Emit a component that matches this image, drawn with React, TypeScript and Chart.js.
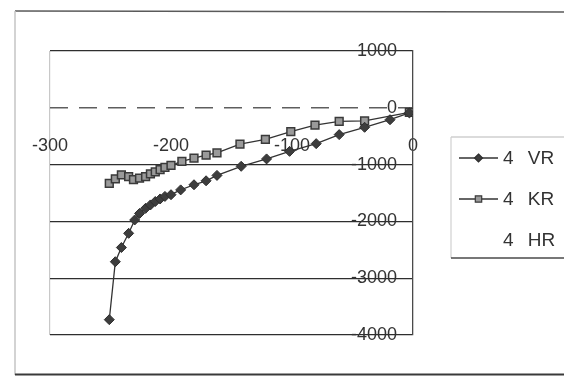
import React, { useEffect, useRef } from 'react';
import { Chart, registerables } from 'chart.js';

Chart.register(...registerables);

// ---- data ----
const seriesLabels = ['4 VR', '4 KR', '4 HR'];

const vrX = [-251, -246, -241, -235, -230, -226, -221, -217, -213, -209, -205, -200, -192, -181, -171, -162, -142, -121, -102, -80, -61, -40, -19, -3];
const vrY = [-3730, -2710, -2460, -2210, -1975, -1860, -1770, -1710, -1650, -1605, -1560, -1530, -1445, -1355, -1285, -1190, -1030, -900, -767, -631, -472, -343, -210, -90];

const krX = [-251, -246, -241, -235, -231, -226, -221, -217, -213, -209, -205, -200, -191, -181, -171, -162, -143, -122, -101, -81, -61, -40, -3];
const krY = [-1330, -1250, -1180, -1210, -1265, -1240, -1210, -1165, -1130, -1090, -1050, -1015, -945, -885, -835, -795, -640, -555, -420, -305, -240, -230, -80];

const xMin = -300;
const xMax = 0;
const xStep = 100;
const yMin = -4000;
const yMax = 1000;
const yStep = 1000;

const FONT = "'Liberation Sans', Arial, sans-serif";
const TEXT = '#333333';

const framePlugin = {
  id: 'frame',
  beforeDraw(chart: any) {
    const ctx = chart.ctx;
    ctx.save();
    ctx.fillStyle = '#ffffff';
    ctx.fillRect(0, 0, chart.width, chart.height);
    const seg = (x1: number, y1: number, x2: number, y2: number, c: string, w: number) => {
      ctx.strokeStyle = c;
      ctx.lineWidth = w;
      ctx.beginPath();
      ctx.moveTo(x1, y1);
      ctx.lineTo(x2, y2);
      ctx.stroke();
    };
    seg(15, 11, 564, 12, '#5a5a5a', 1.5);
    seg(15, 11, 15, 375, '#c4c4c4', 1.5);
    seg(15, 374.5, 564, 374.5, '#3a3a3a', 2);
    ctx.restore();
  },
};

const legendPlugin = {
  id: 'boxLegend',
  afterDraw(chart: any) {
    const ctx = chart.ctx;
    ctx.save();
    const seg = (x1: number, y1: number, x2: number, y2: number, c: string, w: number) => {
      ctx.strokeStyle = c;
      ctx.lineWidth = w;
      ctx.beginPath();
      ctx.moveTo(x1, y1);
      ctx.lineTo(x2, y2);
      ctx.stroke();
    };
    // legend box
    seg(451, 137, 570, 137, '#b8b8b8', 1.2);
    seg(451, 137, 451, 258, '#d0d0d0', 1.2);
    seg(451, 258, 570, 258, '#4a4a4a', 1.6);

    chart.data.datasets.forEach((ds: any, i: number) => {
      const y = 158 + i * 41;
      if (ds.data.length) {
        seg(459, y, 498, y, ds.borderColor, 1.3);
        const cx = 478.5;
        ctx.fillStyle = ds.pointBackgroundColor;
        ctx.strokeStyle = ds.pointBorderColor;
        ctx.lineWidth = 1.2;
        ctx.beginPath();
        if (ds.pointStyle === 'rectRot') {
          const r = 4;
          ctx.moveTo(cx, y - r);
          ctx.lineTo(cx + r, y);
          ctx.lineTo(cx, y + r);
          ctx.lineTo(cx - r, y);
          ctx.closePath();
        } else {
          const s = 3.2;
          ctx.rect(cx - s, y - s, 2 * s, 2 * s);
        }
        ctx.fill();
        ctx.stroke();
      }
      ctx.fillStyle = TEXT;
      ctx.font = `19px ${FONT}`;
      (ctx as any).wordSpacing = '9px';
      ctx.textAlign = 'left';
      ctx.textBaseline = 'middle';
      ctx.fillText(ds.label, 503, y + 1);
    });
    ctx.restore();
  },
};

export default function App() {
  const canvasRef = useRef<HTMLCanvasElement | null>(null);

  useEffect(() => {
    document.body.style.margin = '0';
    const canvas = canvasRef.current;
    if (!canvas) return;

    const chart = new Chart(canvas, {
      type: 'scatter',
      data: {
        datasets: [
          {
            label: seriesLabels[0],
            data: vrX.map((x, i) => ({ x, y: vrY[i] })),
            showLine: true,
            borderColor: '#333333',
            borderWidth: 1.3,
            pointStyle: 'rectRot',
            pointRadius: 5,
            pointBackgroundColor: '#3d3d3d',
            pointBorderColor: '#2e2e2e',
            pointBorderWidth: 1,
            order: 1,
          },
          {
            label: seriesLabels[1],
            data: krX.map((x, i) => ({ x, y: krY[i] })),
            showLine: true,
            borderColor: '#333333',
            borderWidth: 1.3,
            pointStyle: 'rect',
            pointRadius: 5.5,
            pointBackgroundColor: '#9a9a9a',
            pointBorderColor: '#3a3a3a',
            pointBorderWidth: 1.5,
            order: 2,
          },
          {
            label: seriesLabels[2],
            data: [],
            showLine: false,
            borderColor: 'rgba(0,0,0,0)',
            pointRadius: 0,
          },
        ],
      },
      options: {
        animation: false,
        responsive: false,
        devicePixelRatio: 1,
        layout: { padding: { left: 50, top: 51, right: 151, bottom: 41 } },
        plugins: {
          legend: { display: false },
          tooltip: { enabled: false },
          title: { display: false },
        },
        scales: {
          x: {
            type: 'linear',
            position: { y: 0 } as any,
            min: xMin,
            max: xMax,
            ticks: {
              stepSize: xStep,
              callback: (v: any) => String(v),
              font: { family: FONT, size: 18 },
              color: TEXT,
              padding: 27,
              maxRotation: 0,
            },
            grid: {
              drawTicks: false,
              color: (c: any) => (c.tick && c.tick.value === xMin ? '#c8c8c8' : 'rgba(0,0,0,0)'),
              lineWidth: 1.2,
            },
            border: { display: false },
          },
          y: {
            type: 'linear',
            position: 'right',
            min: yMin,
            max: yMax,
            afterFit: (s: any) => {
              s.width = 0;
            },
            ticks: {
              stepSize: yStep,
              callback: (v: any) => String(v),
              font: { family: FONT, size: 18 },
              color: TEXT,
              mirror: true,
              padding: -16,
            },
            grid: {
              drawTicks: false,
              color: (c: any) => (c.tick && c.tick.value === 0 ? 'rgba(0,0,0,0)' : '#2e2e2e'),
              lineWidth: 1.3,
            },
            border: { color: '#4a4a4a', width: 1.3 },
          },
          yz: {
            axis: 'y',
            type: 'linear',
            position: 'left',
            min: yMin,
            max: yMax,
            afterFit: (s: any) => {
              s.width = 0;
            },
            ticks: { stepSize: yStep, display: false },
            grid: {
              drawTicks: false,
              color: (c: any) => (c.tick && c.tick.value === 0 ? '#5e5e5e' : 'rgba(0,0,0,0)'),
              lineWidth: 1.4,
            },
            border: { display: false, dash: [18, 11] },
          },
        },
      },
      plugins: [framePlugin, legendPlugin],
    });

    return () => chart.destroy();
  }, []);

  return (
    <div style={{ position: 'absolute', left: 0, top: 0, width: 564, height: 376, background: '#fff' }}>
      <canvas ref={canvasRef} width={564} height={376} />
    </div>
  );
}
